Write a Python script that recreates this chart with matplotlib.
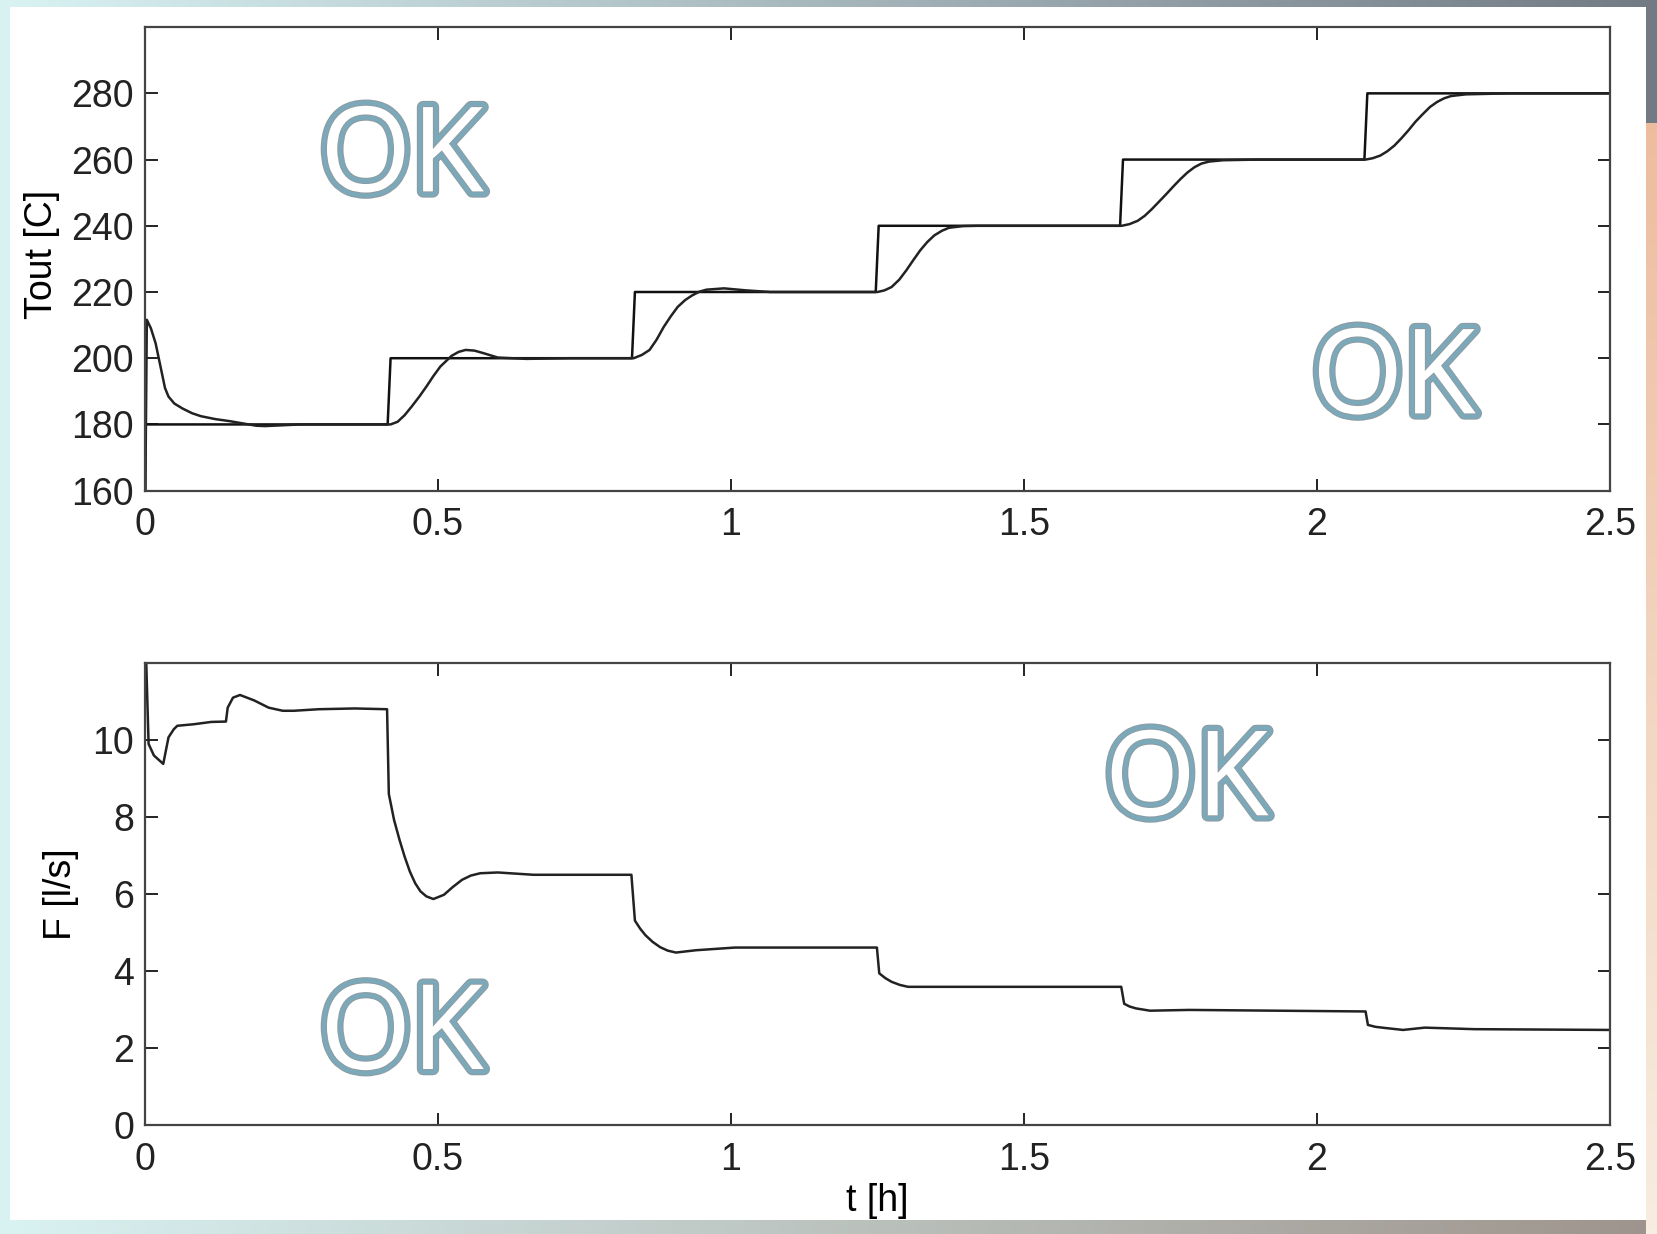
import matplotlib.pyplot as plt
import matplotlib.patheffects as pe
from matplotlib.patches import Rectangle
import numpy as np

plt.rcParams['font.family'] = ['Liberation Sans', 'DejaVu Sans']

# temperature setpoint (staircase)
t_ref = [0.0, 0.0005, 0.414, 0.419, 0.831, 0.836, 1.247, 1.252, 1.664, 1.669, 2.081, 2.086, 2.5]
T_ref = [150, 180, 180, 200, 200, 220, 220, 240, 240, 260, 260, 280, 280]

# measured outlet temperature
t_out = [0.0, 0.003, 0.010, 0.018, 0.0275, 0.034, 0.040, 0.050, 0.064, 0.080,
         0.095, 0.120, 0.144, 0.19, 0.205, 0.266, 0.419, 0.431, 0.443, 0.455,
         0.468, 0.480, 0.492, 0.504, 0.523, 0.535, 0.547, 0.562, 0.578, 0.602,
         0.651, 0.724, 0.834, 0.848, 0.861, 0.873, 0.885, 0.897, 0.909, 0.922,
         0.934, 0.946, 0.958, 0.988, 1.025, 1.067, 1.250, 1.262, 1.274, 1.287,
         1.299, 1.311, 1.323, 1.335, 1.347, 1.360, 1.372, 1.396, 1.42, 1.667,
         1.680, 1.694, 1.706, 1.718, 1.730, 1.743, 1.755, 1.767, 1.779, 1.791,
         1.803, 1.816, 1.840, 1.9, 2.083, 2.095, 2.108, 2.120, 2.132, 2.144,
         2.156, 2.168, 2.181, 2.193, 2.205, 2.217, 2.229, 2.254, 2.327, 2.5]
T_out = [150, 211.6, 209.0, 204.5, 196.5, 191.0, 188.4, 186.3, 184.8, 183.4,
         182.5, 181.6, 181.0, 179.6, 179.5, 180.0, 180.0, 180.8, 182.8, 185.4,
         188.4, 191.4, 194.6, 197.5, 200.7, 201.9, 202.5, 202.3, 201.5, 200.2,
         199.8, 200.0, 200.0, 201.0, 202.5, 205.6, 209.4, 212.6, 215.5, 217.6,
         219.0, 220.1, 220.7, 221.1, 220.5, 220.0, 220.0, 220.5, 221.5, 223.7,
         226.5, 229.6, 232.6, 235.1, 237.1, 238.5, 239.4, 239.9, 240.0, 240.0,
         240.5, 241.5, 243.0, 245.0, 247.2, 249.6, 251.9, 254.1, 256.1, 257.7,
         258.8, 259.4, 259.8, 260.0, 260.0, 260.4, 261.2, 262.5, 264.2, 266.4,
         268.8, 271.4, 273.8, 275.9, 277.4, 278.5, 279.2, 279.7, 280.0, 280.0]

# flow rate
t_F = [0.0, 0.002, 0.006, 0.015, 0.031, 0.040, 0.049, 0.055, 0.083, 0.113,
       0.138, 0.141, 0.150, 0.162, 0.186, 0.211, 0.235, 0.254, 0.296, 0.358,
       0.413, 0.416, 0.425, 0.434, 0.443, 0.452, 0.461, 0.470, 0.480, 0.492,
       0.510, 0.525, 0.541, 0.556, 0.572, 0.602, 0.663, 0.830, 0.836, 0.845,
       0.854, 0.866, 0.879, 0.892, 0.906, 0.940, 1.007, 1.249, 1.253, 1.263,
       1.274, 1.288, 1.302, 1.666, 1.671, 1.680, 1.691, 1.715, 1.782, 2.083,
       2.087, 2.100, 2.117, 2.147, 2.184, 2.269, 2.5]
F = [13, 12.0, 9.9, 9.6, 9.38, 10.07, 10.28, 10.37, 10.41, 10.47,
     10.48, 10.84, 11.10, 11.17, 11.03, 10.84, 10.76, 10.76, 10.80, 10.82,
     10.80, 8.6, 7.92, 7.42, 6.97, 6.58, 6.28, 6.07, 5.94, 5.87,
     5.98, 6.18, 6.37, 6.48, 6.54, 6.56, 6.50, 6.50, 5.31, 5.10,
     4.93, 4.76, 4.62, 4.53, 4.48, 4.54, 4.61, 4.61, 3.94, 3.82,
     3.72, 3.64, 3.59, 3.59, 3.15, 3.08, 3.03, 2.97, 2.99, 2.95,
     2.60, 2.55, 2.52, 2.47, 2.53, 2.49, 2.47]

x_ticks = [0, 0.5, 1, 1.5, 2, 2.5]
x_tick_labels = ['0', '0.5', '1', '1.5', '2', '2.5']
T_ticks = [160, 180, 200, 220, 240, 260, 280]
F_ticks = [0, 2, 4, 6, 8, 10]

# overlay stamps, baseline position in figure fraction
ok_positions = [(0.2423, 0.8449), (0.8406, 0.665), (0.7156, 0.3393), (0.2423, 0.1337)]


def draw_frame(fig):
    # slide-like gradient border
    bg = fig.add_axes([0, 0, 1, 1], zorder=-10)
    bg.axis('off')
    ramp = np.linspace(0, 1, 256)
    left_col = np.array([0.85, 0.95, 0.95])
    right_col = np.array([0.45, 0.48, 0.52])
    top = left_col[None, :] * (1 - ramp[:, None]) + right_col[None, :] * ramp[:, None]
    bottom_right = np.array([0.62, 0.58, 0.55])
    bottom = left_col[None, :] * (1 - ramp[:, None]) + bottom_right[None, :] * ramp[:, None]
    img = np.stack([top, bottom])
    bg.imshow(img, aspect='auto', extent=[0, 1, 0, 1], interpolation='bilinear')
    bg.add_patch(Rectangle((0.006, 0.011), 0.987, 0.983, facecolor='white',
                           edgecolor='none'))
    side = np.linspace(0, 1, 256)[:, None]
    peach = np.array([0.93, 0.74, 0.62])
    pale = np.array([0.97, 0.93, 0.88])
    right = peach[None, :] * (1 - side) + pale[None, :] * side
    bg.imshow(right[:, None, :], aspect='auto', extent=[0.993, 1.0, 0.0, 0.9],
              interpolation='bilinear')
    bg.set_xlim(0, 1)
    bg.set_ylim(0, 1)


def style_axes(ax, ylim, yticks):
    ax.set_xlim(0, 2.5)
    ax.set_ylim(*ylim)
    ax.set_xticks(x_ticks)
    ax.set_xticklabels(x_tick_labels)
    ax.set_yticks(yticks)
    ax.tick_params(direction='in', length=9, width=1.4, labelsize=27,
                   top=True, right=True, colors='#222222')
    ax.tick_params(axis='x', pad=12)
    ax.tick_params(axis='y', pad=8)
    for s in ax.spines.values():
        s.set_linewidth(1.6)
        s.set_color('#444444')


def main():
    fig = plt.figure(figsize=(16.58, 12.34), dpi=100)
    draw_frame(fig)

    ax1 = fig.add_axes([0.0875, 0.6024, 0.8835, 0.3756])
    ax2 = fig.add_axes([0.0875, 0.0883, 0.8835, 0.3744])

    ax1.plot(t_ref, T_ref, color='#111111', lw=1.8)
    ax1.plot(t_out, T_out, color='#222222', lw=1.8)
    style_axes(ax1, (160, 300), T_ticks)
    ax1.set_ylabel('Tout [C]', fontsize=27)
    ax1.yaxis.set_label_coords(-0.058, 0.51)

    ax2.plot(t_F, F, color='#222222', lw=1.8)
    style_axes(ax2, (0, 12), F_ticks)
    ax2.set_ylabel('F [l/s]', fontsize=27)
    ax2.yaxis.set_label_coords(-0.045, 0.5)
    ax2.set_xlabel('t [h]', fontsize=27)
    ax2.xaxis.set_label_coords(0.5, -0.125)

    effects = [pe.withSimplePatchShadow(offset=(2, -2), shadow_rgbFace='#808080', alpha=0.5),
               pe.Stroke(linewidth=9, foreground='#8d9ca3'),
               pe.Stroke(linewidth=7.5, foreground='#7ba9ba'),
               pe.Stroke(linewidth=1.4, foreground='#8d9ca3'),
               pe.Normal()]
    for x, y in ok_positions:
        fig.text(x, y, 'OK', fontsize=85, fontweight='normal',
                 family=['Open Sans', 'DejaVu Sans'],
                 color='white', ha='center', va='baseline', path_effects=effects)

    fig.savefig('out.png', dpi=100)


if __name__ == '__main__':
    main()
